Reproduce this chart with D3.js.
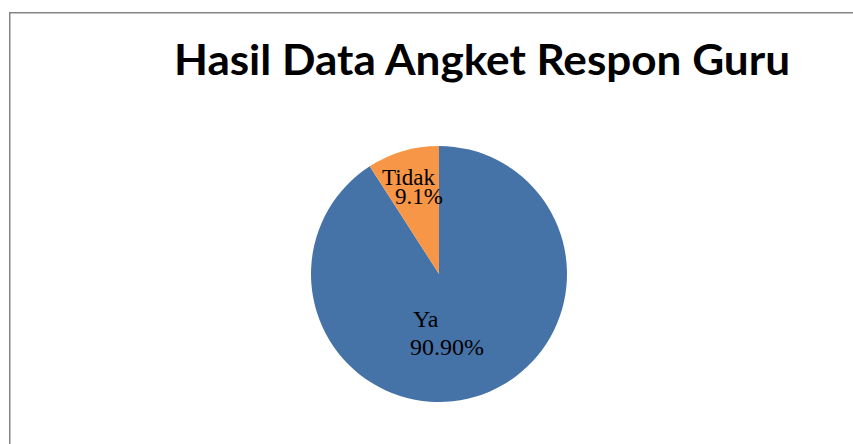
<!DOCTYPE html>
<html>
<head>
<meta charset="utf-8">
<script src="https://cdn.jsdelivr.net/npm/d3@7"></script>
<style>
  html, body { margin: 0; padding: 0; background: #fff; }
  svg { display: block; }
</style>
</head>
<body>
<div id="chart"></div>
<script>
const title = 'Hasil Data Angket Respon Guru';
const categories = ['Ya', 'Tidak'];
const values = [90.9, 9.1];
const valueLabels = ['90.90%', '9.1%'];

const width = 853, height = 444;
const cx = 439, cy = 274, radius = 128;

const svg = d3.select('#chart').append('svg')
    .attr('width', width)
    .attr('height', height);

// chart frame (runs off the right and bottom edges)
svg.append('path')
    .attr('d', `M9.75,${height + 2}V12.75H${width + 2}`)
    .attr('fill', 'none')
    .attr('stroke', '#858585')
    .attr('stroke-width', 1.5);

svg.append('text')
    .attr('x', 174)
    .attr('y', 75)
    .attr('font-family', 'Lato, "Open Sans", sans-serif')
    .attr('font-weight', 'bold')
    .attr('font-size', 42)
    .attr('textLength', 616)
    .attr('lengthAdjust', 'spacingAndGlyphs')
    .attr('fill', '#000')
    .text(title);

const data = categories.map((c, i) => ({ category: c, value: values[i], label: valueLabels[i] }));

const color = d3.scaleOrdinal()
    .domain(categories)
    .range(['#4573a7', '#f79646']);

const pie = d3.pie()
    .sort(null)
    .value(d => d.value);

const arc = d3.arc()
    .innerRadius(0)
    .outerRadius(radius);

const arcs = pie(data);

const g = svg.append('g')
    .attr('transform', `translate(${cx},${cy})`);

g.selectAll('path')
    .data(arcs)
    .join('path')
        .attr('fill', d => color(d.data.category))
        .attr('d', arc);

// label placement per slice: radius of the anchor arc, font size, line offsets
const labelStyle = {
    'Ya':    { r: 60, size: 24, dx1: -43, dx2: -46, y1: -5, y2: 23 },
    'Tidak': { r: 92, size: 23, dx1: -31, dx2: -18, y1: -1, y2: 18 }
};

const labels = g.selectAll('text')
    .data(arcs)
    .join('text')
        .attr('font-family', '"Liberation Serif", "Times New Roman", serif')
        .attr('fill', '#000')
        .attr('font-size', d => labelStyle[d.data.category].size)
        .attr('transform', d => {
            const s = labelStyle[d.data.category];
            const c = d3.arc().innerRadius(s.r).outerRadius(s.r).centroid(d);
            return `translate(${c})`;
        });

labels.append('tspan')
    .attr('x', d => labelStyle[d.data.category].dx1)
    .attr('y', d => labelStyle[d.data.category].y1)
    .text(d => d.data.category);

labels.append('tspan')
    .attr('x', d => labelStyle[d.data.category].dx2)
    .attr('y', d => labelStyle[d.data.category].y2)
    .text(d => d.data.label);
</script>
</body>
</html>
